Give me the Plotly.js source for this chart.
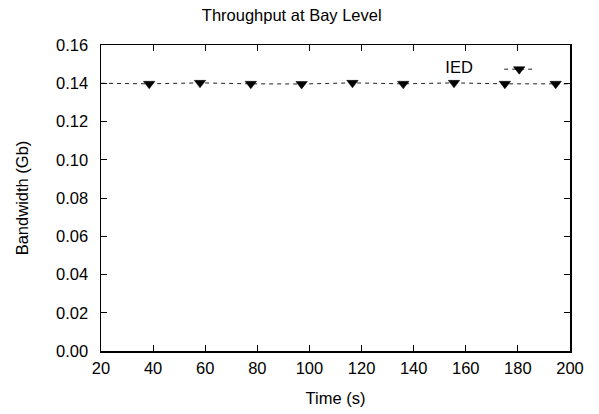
<!DOCTYPE html>
<html>
<head>
<meta charset="utf-8">
<script src="https://cdn.plot.ly/plotly-3.0.1.min.js"></script>
<style>html,body{margin:0;padding:0;background:#fff;}#chart{width:599px;height:414px;}</style>
</head>
<body>
<div id="chart"></div>
<script>
// Series: IED throughput at the sampled (marked) points
const timeS = [38.5, 58, 77.5, 97, 116.5, 136, 155.5, 175, 194.5];
const bandwidthGb = [0.1397, 0.1402, 0.1397, 0.1396, 0.1402, 0.1397, 0.1402, 0.1397, 0.1397];
// Unmarked line continuation to the plot edges
const edgeTimeS = [20, 38.5, null, 194.5, 200];
const edgeBandwidthGb = [0.1400, 0.1397, null, 0.1397, 0.1397];
const xTicks = [20, 40, 60, 80, 100, 120, 140, 160, 180, 200];
const yTicks = [0.00, 0.02, 0.04, 0.06, 0.08, 0.10, 0.12, 0.14, 0.16];
const seriesName = 'IED';

const font = {family: '"Liberation Sans", Arial, sans-serif', size: 16.5, color: '#000'};
const lineStyle = {color: '#222', width: 1, dash: '4px,4px'};

const edgeTrace = {
  x: edgeTimeS, y: edgeBandwidthGb, mode: 'lines', connectgaps: false,
  line: lineStyle, showlegend: false, hoverinfo: 'skip'
};

const trace = {
  x: timeS,
  y: bandwidthGb,
  mode: 'lines+markers',
  name: ' ',
  line: lineStyle,
  marker: {symbol: 'triangle-down', color: '#000', size: 10, line: {width: 0.5, color: '#000'}},
  cliponaxis: true
};

const axisCommon = {
  showgrid: false, zeroline: false, showline: true, mirror: 'ticks',
  linecolor: '#000', linewidth: 1.5, ticks: 'inside', ticklen: 6, tickwidth: 1,
  tickcolor: '#000', tickfont: font
};

const layout = {
  width: 599, height: 414,
  margin: {l: 101, r: 29, t: 45, b: 63},
  paper_bgcolor: '#fff', plot_bgcolor: '#fff',
  font: font,
  title: {text: 'Throughput at Bay Level', font: font, x: 0.487, xanchor: 'center', y: 0.963, yanchor: 'middle'},
  xaxis: Object.assign({}, axisCommon, {
    range: [20, 200], tickvals: xTicks, ticktext: xTicks.map(String),
    ticklabelstandoff: 2,
    title: {text: 'Time (s)', font: font, standoff: 16}
  }),
  yaxis: Object.assign({}, axisCommon, {
    range: [0, 0.16], tickvals: yTicks, ticktext: yTicks.map(v => v.toFixed(2)),
    ticklabelstandoff: 8,
    title: {text: 'Bandwidth (Gb)', font: font, standoff: 23}
  }),
  showlegend: true,
  legend: {
    orientation: 'h', x: 0.73, y: 0.92, xanchor: 'left', yanchor: 'middle',
    bgcolor: 'rgba(0,0,0,0)', font: font, itemwidth: 30,
    title: {text: seriesName + '\u00a0\u00a0\u00a0\u00a0', side: 'left', font: font}
  }
};

Plotly.newPlot('chart', [edgeTrace, trace], layout, {displayModeBar: false, staticPlot: true});
</script>
</body>
</html>
